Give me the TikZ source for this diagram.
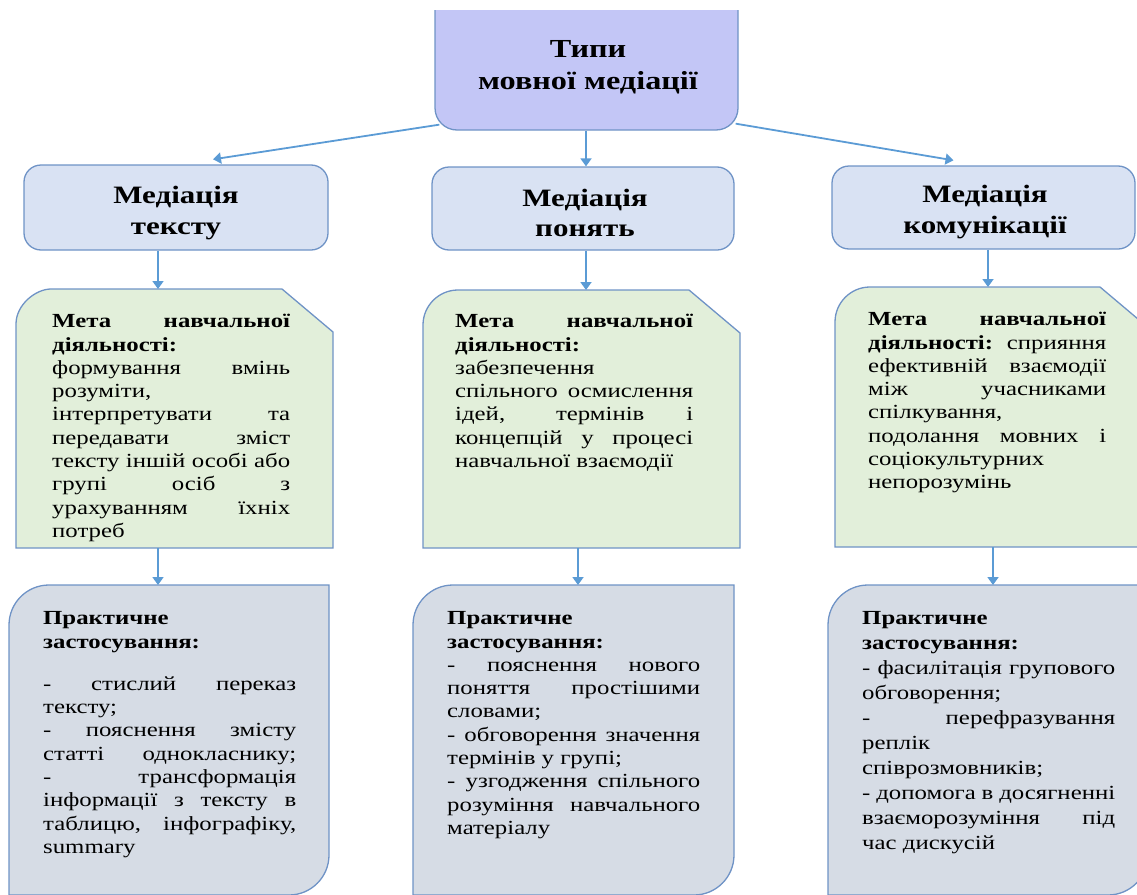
\documentclass[tikz,border=0pt]{standalone}
\usepackage{fontspec}
\setmainfont{Liberation Serif}[FakeStretch=1.24]
\usetikzlibrary{arrows.meta}
\definecolor{topfill}{HTML}{C3C6F6}
\definecolor{midfill}{HTML}{D9E2F3}
\definecolor{greenfill}{HTML}{E2EFDA}
\definecolor{grayfill}{HTML}{D6DCE5}
\definecolor{edge}{HTML}{6F93C6}
\definecolor{arrowc}{HTML}{5B9BD5}
\newlength\gw \setlength\gw{238pt}
\newlength\pw \setlength\pw{253pt}
\newcommand\jg[1]{\makebox[\gw][s]{#1}}
\newcommand\jp[1]{\makebox[\pw][s]{#1}}
\newcommand\fl{\rule{0pt}{15pt}}
\hbadness=10000 \hfuzz=20pt
\begin{document}
\begin{tikzpicture}[x=1pt,y=-1pt,
  boxline/.style={draw=edge,line width=1.3pt},
  topbox/.style={boxline,fill=topfill,rounded corners=22pt,inner sep=0},
  midbox/.style={boxline,fill=midfill,rounded corners=17pt,inner sep=0},
  greenshape/.style={boxline,fill=greenfill},
  grayshape/.style={boxline,fill=grayfill},
  area/.style={inner sep=0,outer sep=0},
  ttl/.style={font=\fontsize{26}{32}\selectfont\bfseries,align=center},
  mttl/.style={font=\fontsize{25}{30.5}\selectfont\bfseries,align=center},
  body/.style={font=\fontsize{20}{23.3}\selectfont,align=left,anchor=north west,inner sep=0},
  bodyw/.style={font=\fontsize{20}{25}\selectfont,align=left,anchor=north west,inner sep=0},
  arr/.style={draw=arrowc,line width=1.8pt,-{Triangle[length=8pt,width=11pt]}}]
\useasboundingbox (0,0) rectangle (1137,894);
\clip (0,0) rectangle (1137,894);

% top box
\begin{scope}
\clip (0,10) rectangle (1137,300);
\node[topbox,minimum width=303pt,minimum height=152pt] (t) at (586.5,54) {};
\end{scope}
\node[ttl] (tt) at (588,67) {Типи\\мовної медіації};

% middle row
\node[midbox,minimum width=304pt,minimum height=85pt] (m1) at (176,207.5) {};
\node[mttl] (m1t) at (176,213) {Медіація\\тексту};
\node[midbox,minimum width=302pt,minimum height=83pt] (m2) at (583,208.5) {};
\node[mttl] (m2t) at (585,213) {Медіація\\понять};
\node[midbox,minimum width=303pt,minimum height=83pt] (m3) at (983.5,207.5) {};
\node[mttl] (m3t) at (985,212) {Медіація\\комунікації};

% green boxes
\draw[greenshape] (16,548) -- (16,324) .. controls (16,304.7) and (35.7,289) .. (51,289) -- (282,289) -- (333,332) -- (333,548) -- cycle;
\node[area,minimum width=317pt,minimum height=259pt] (g1) at (174.5,418.5) {};
\draw[greenshape] (423,548) -- (423,325) .. controls (423,305.7) and (438.7,290) .. (458,290) -- (689,290) -- (740,333) -- (740,548) -- cycle;
\node[area,minimum width=317pt,minimum height=258pt] (g2) at (581.5,419) {};
\draw[greenshape] (835,547) -- (835,322) .. controls (835,302.7) and (850.7,287) .. (870,287) -- (1100,287) -- (1151,330) -- (1151,547) -- cycle;
\node[area,minimum width=316pt,minimum height=260pt] (g3) at (993,417) {};

% gray boxes
\draw[grayshape] (9,895) -- (9,625) .. controls (9,602.9) and (26.9,585) .. (49,585) -- (329,585) -- (329,855) .. controls (329,877.1) and (311.1,895) .. (289,895) -- cycle;
\node[area,minimum width=320pt,minimum height=310pt] (p1) at (169,740) {};
\draw[grayshape] (413,895) -- (413,625) .. controls (413,602.9) and (430.9,585) .. (453,585) -- (734,585) -- (734,855) .. controls (734,877.1) and (716.1,895) .. (694,895) -- cycle;
\node[area,minimum width=321pt,minimum height=310pt] (p2) at (573.5,740) {};
\draw[grayshape] (828,895) -- (828,625) .. controls (828,602.9) and (845.9,585) .. (868,585) -- (1148,585) -- (1148,855) .. controls (1148,877.1) and (1130.1,895) .. (1108,895) -- cycle;
\node[area,minimum width=320pt,minimum height=310pt] (p3) at (988,740) {};

% arrows
\coordinate (xa) at (158,0);
\coordinate (xb) at (586,0);
\coordinate (xc) at (578,0);
\coordinate (xd) at (988,0);
\coordinate (xe) at (993,0);
\draw[arr] ([shift={(5,-6)}]t.south west) -- ([shift={(37,-5)}]m1.north);
\draw[arr] (t.south -| xb) -- (m2.north -| xb);
\draw[arr] ([shift={(-3,-7)}]t.south east) -- ([shift={(-30,-5)}]m3.north);
\draw[arr] (m1.south -| xa) -- (g1.north -| xa);
\draw[arr] (g1.south -| xa) -- (p1.north -| xa);
\draw[arr] (m2.south -| xb) -- (g2.north -| xb);
\draw[arr] (g2.south -| xc) -- (p2.north -| xc);
\draw[arr] (m3.south -| xd) -- (g3.north -| xd);
\draw[arr] (g3.south -| xe) -- (p3.north -| xe);

% texts in green boxes
\node[body] (g1x) at (52,312.5) {\fl\jg{\textbf{Мета навчальної}}\\
\textbf{діяльності:}\\
\jg{формування вмінь}\\
розуміти,\\
\jg{інтерпретувати та}\\
\jg{передавати зміст}\\
\jg{тексту іншій особі або}\\
\jg{групі осіб з}\\
\jg{урахуванням їхніх}\\
потреб};
\node[body] (g2x) at (455,312.5) {\fl\jg{\textbf{Мета навчальної}}\\
\textbf{діяльності:}\\
забезпечення\\
\jg{спільного осмислення}\\
\jg{ідей, термінів і}\\
\jg{концепцій у процесі}\\
навчальної взаємодії};
\node[body] (g3x) at (868,310.5) {\fl\jg{\textbf{Мета навчальної}}\\
\jg{\textbf{діяльності:} сприяння}\\
\jg{ефективній взаємодії}\\
\jg{між учасниками}\\
спілкування,\\
\jg{подолання мовних і}\\
соціокультурних\\
непорозумінь};

% texts in gray boxes
\node[body] (p1x) at (43,609.5) {\fl\textbf{Практичне}\\
\textbf{застосування:}\\[19pt]
\jp{- стислий переказ}\\
тексту;\\
\jp{- пояснення змісту}\\
\jp{статті однокласнику;}\\
\jp{- трансформація}\\
\jp{інформації з тексту в}\\
\jp{таблицю, інфографіку,}\\
summary};
\node[body] (p2x) at (447,609.5) {\fl\textbf{Практичне}\\
\textbf{застосування:}\\
\jp{- пояснення нового}\\
\jp{поняття простішими}\\
словами;\\
\jp{- обговорення значення}\\
термінів у групі;\\
\jp{- узгодження спільного}\\
\jp{розуміння навчального}\\
матеріалу};
\node[bodyw] (p3x) at (862,609.5) {\fl\textbf{Практичне}\\
\textbf{застосування:}\\
\jp{- фасилітація групового}\\
обговорення;\\
\jp{- перефразування}\\
реплік\\
співрозмовників;\\
\jp{- допомога в досягненні}\\
\jp{взаєморозуміння під}\\
час дискусій};
\end{tikzpicture}
\end{document}
